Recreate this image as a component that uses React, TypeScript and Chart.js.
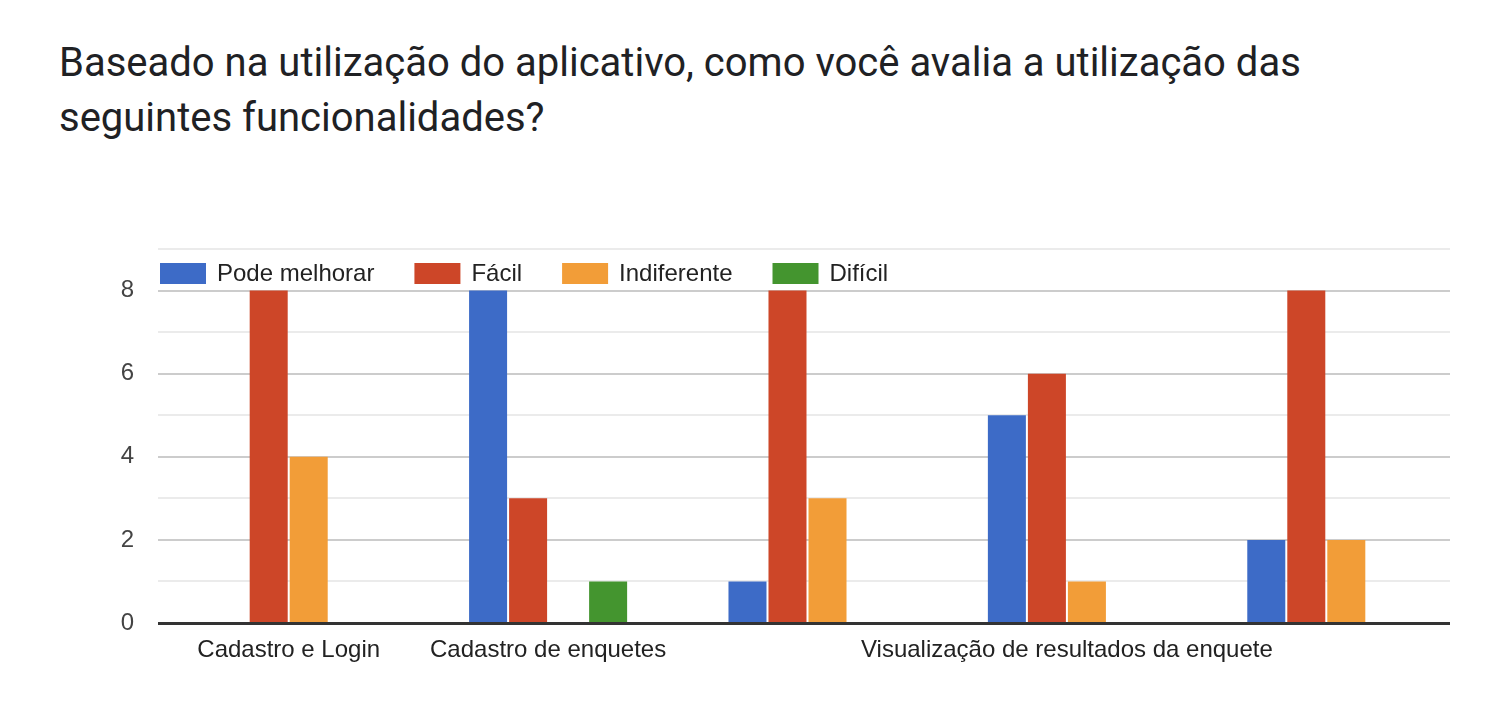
import React, { useEffect, useRef } from "react";
import { Chart, registerables } from "chart.js";

Chart.register(...registerables);

const titleLines = [
  "Baseado na utilização do aplicativo, como você avalia a utilização das",
  "seguintes funcionalidades?",
];
const categories = [
  "Cadastro e Login",
  "Cadastro de enquetes",
  "Votação em enquetes",
  "Visualização de resultados da enquete",
  "Compartilhamento de enquetes",
];
const visibleCategoryIndexes = [0, 1, 3];
const seriesLabels = ["Pode melhorar", "Fácil", "Indiferente", "Difícil"];
const podeMelhorar = [0, 8, 1, 5, 2];
const facil = [8, 3, 8, 6, 8];
const indiferente = [4, 0, 3, 1, 2];
const dificil = [0, 1, 0, 0, 0];
const seriesColors = ["#3d6bc7", "#cd4628", "#f29d38", "#44952f"];
const yMax = 9;
const yLabelStep = 2;

const FONT = "'Liberation Sans', Arial, sans-serif";
const GRID_LEFT = 158;
const GRID_RIGHT = 1450;

const gridPlugin = {
  id: "customGrid",
  beforeDatasetsDraw(chart: any) {
    const ctx = chart.ctx;
    const yScale = chart.scales.y;
    ctx.save();
    ctx.lineWidth = 2;
    yScale.ticks.forEach((t: any) => {
      const v = t.value;
      if (v === 0) return;
      const y = Math.round(yScale.getPixelForValue(v));
      ctx.strokeStyle = v % yLabelStep === 0 ? "#cccccc" : "#ebebeb";
      ctx.beginPath();
      ctx.moveTo(GRID_LEFT, y);
      ctx.lineTo(GRID_RIGHT, y);
      ctx.stroke();
    });
    ctx.restore();
  },
  afterDatasetsDraw(chart: any) {
    const ctx = chart.ctx;
    const y = chart.scales.y.getPixelForValue(0);
    ctx.save();
    ctx.strokeStyle = "#333333";
    ctx.lineWidth = 3;
    ctx.beginPath();
    ctx.moveTo(GRID_LEFT, y + 0.5);
    ctx.lineTo(GRID_RIGHT, y + 0.5);
    ctx.stroke();
    ctx.restore();
  },
};

const legendPlugin = {
  id: "insideLegend",
  afterDraw(chart: any) {
    const ctx = chart.ctx;
    const area = chart.chartArea;
    ctx.save();
    ctx.font = `24px ${FONT}`;
    ctx.textBaseline = "middle";
    ctx.textAlign = "left";
    let x = GRID_LEFT + 2;
    const boxTop = area.top + 14;
    const boxW = 46;
    const boxH = 21;
    chart.data.datasets.forEach((ds: any) => {
      ctx.fillStyle = ds.backgroundColor;
      ctx.fillRect(x, boxTop, boxW, boxH);
      const tx = x + boxW + 11;
      ctx.fillStyle = "#222222";
      ctx.fillText(ds.label, tx, boxTop + boxH / 2 + 1);
      x = tx + ctx.measureText(ds.label).width + 40;
    });
    ctx.restore();
  },
};

export default function App() {
  const canvasRef = useRef<HTMLCanvasElement | null>(null);

  useEffect(() => {
    if (!canvasRef.current) return;
    const seriesValues = [podeMelhorar, facil, indiferente, dificil];
    const chart = new Chart(canvasRef.current, {
      type: "bar",
      data: {
        labels: categories,
        datasets: seriesLabels.map((label, i) => ({
          label,
          data: seriesValues[i],
          backgroundColor: seriesColors[i],
          borderWidth: 0,
          barPercentage: 0.95,
          categoryPercentage: 0.617,
        })),
      },
      options: {
        animation: false,
        responsive: false,
        maintainAspectRatio: false,
        layout: { padding: { top: 249, right: 38, left: 0, bottom: 0 } },
        plugins: {
          legend: { display: false },
          title: { display: false },
          tooltip: { enabled: false },
        },
        scales: {
          x: {
            grid: { display: false, drawTicks: false },
            border: { display: false },
            ticks: {
              autoSkip: false,
              maxRotation: 0,
              minRotation: 0,
              padding: 13,
              color: "#222222",
              font: { family: FONT, size: 24 },
              callback: (_v: any, idx: number) =>
                visibleCategoryIndexes.includes(idx) ? categories[idx] : "",
            },
            afterFit: (scale: any) => {
              scale.height = 101;
            },
          },
          y: {
            min: 0,
            max: yMax,
            border: { display: false },
            grid: { display: false, drawTicks: false },
            ticks: {
              stepSize: 1,
              padding: 25,
              color: "#444444",
              font: { family: FONT, size: 24 },
              callback: (v: any) => (Number(v) % yLabelStep === 0 ? String(v) : ""),
            },
            afterFit: (scale: any) => {
              scale.width = 159;
            },
          },
        },
      },
      plugins: [gridPlugin, legendPlugin],
    });
    return () => chart.destroy();
  }, []);

  return (
    <div
      style={{
        position: "fixed",
        left: 0,
        top: 0,
        width: 1494,
        height: 724,
        background: "#ffffff",
        overflow: "hidden",
      }}
    >
      <div
        style={{
          position: "absolute",
          left: 59,
          top: 35,
          fontFamily: "Roboto, 'Noto Sans', sans-serif",
          fontSize: 40,
          lineHeight: "55px",
          color: "#202124",
          whiteSpace: "nowrap",
        }}
      >
        {titleLines.map((l, i) => (
          <div key={i}>{l}</div>
        ))}
      </div>
      <canvas
        ref={canvasRef}
        width={1494}
        height={724}
        style={{ position: "absolute", left: 0, top: 0, width: 1494, height: 724 }}
      />
    </div>
  );
}
